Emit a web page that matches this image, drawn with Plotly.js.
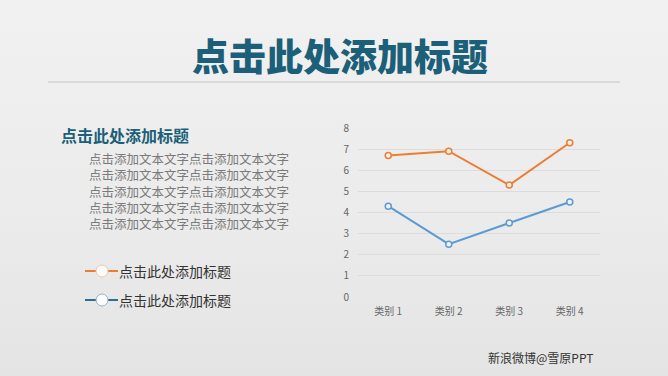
<!DOCTYPE html>
<html><head><meta charset="utf-8">
<script src="https://cdn.plot.ly/plotly-3.0.1.min.js"></script>
<style>
html,body{margin:0;padding:0;}
body{width:668px;height:376px;background:linear-gradient(180deg,#f1f1f1 0%,#ebebeb 60%,#e4e4e4 100%);overflow:hidden;}
#chart{width:668px;height:376px;}
</style></head>
<body><div id="chart"></div>
<script>
const categories = ['类别 1','类别 2','类别 3','类别 4'];
const seriesOrange = [6.7, 6.9, 5.3, 7.3];
const seriesBlue = [4.3, 2.5, 3.5, 4.5];
const yTicks = [0,1,2,3,4,5,6,7,8];
const mainTitle = '点击此处添加标题';
const subTitle = '点击此处添加标题';
const bodyLines = ['点击添加文本文字点击添加文本文字','点击添加文本文字点击添加文本文字','点击添加文本文字点击添加文本文字','点击添加文本文字点击添加文本文字','点击添加文本文字点击添加文本文字'];
const legendLabels = ['点击此处添加标题','点击此处添加标题'];
const footer = '新浪微博@雪原PPT';

const L=358, R=600, T=128, B=297, W=668, H=376;
const px = x => (x-L)/(R-L);
const py = y => (B-y)/(B-T);
const orange='#ED7D31', blue='#5B9BD5', teal='#1b5f78';

const traces = [
 {x:categories,y:seriesOrange,type:'scatter',mode:'lines+markers',line:{color:orange,width:2},
  marker:{symbol:'circle',size:6,color:'#f2f2f2',line:{color:orange,width:1.5}},hoverinfo:'none'},
 {x:categories,y:seriesBlue,type:'scatter',mode:'lines+markers',line:{color:blue,width:2},
  marker:{symbol:'circle',size:6,color:'#f2f2f2',line:{color:blue,width:1.5}},hoverinfo:'none'}
];

const ann = [];
ann.push({text:mainTitle,xref:'paper',yref:'paper',x:px(340),y:py(55),xanchor:'center',yanchor:'middle',showarrow:false,font:{size:37,color:teal,family:'Noto Sans CJK SC',weight:900}});
ann.push({text:'<b>'+subTitle+'</b>',xref:'paper',yref:'paper',x:px(59),y:py(135),xanchor:'left',yanchor:'middle',showarrow:false,font:{size:16,color:teal,family:'Noto Sans CJK SC'}});
ann.push({text:bodyLines.join('<br>'),xref:'paper',yref:'paper',x:px(87),y:py(191),xanchor:'left',yanchor:'middle',align:'left',showarrow:false,font:{size:12.5,color:'#7a7a7a',family:'Noto Sans CJK SC'}});
const legY=[271,300], legC=[orange,'#2e6e8e'];
legendLabels.forEach((t,i)=>{
  ann.push({text:t,xref:'paper',yref:'paper',x:px(117),y:py(legY[i]),xanchor:'left',yanchor:'middle',showarrow:false,font:{size:14,color:'#333',family:'Noto Sans CJK SC'}});
});
ann.push({text:footer,xref:'paper',yref:'paper',x:px(486),y:py(357),xanchor:'left',yanchor:'middle',showarrow:false,font:{size:12,color:'#333',family:'Noto Sans CJK SC'}});

const shapes = [
 {type:'line',xref:'paper',yref:'paper',x0:px(48),x1:px(620),y0:py(82),y1:py(82),line:{color:'#c4c4c4',width:1}}
];
legY.forEach((y,i)=>{
  shapes.push({type:'line',xref:'paper',yref:'paper',x0:px(85),x1:px(118),y0:py(y),y1:py(y),line:{color:legC[i],width:2}});
  shapes.push({type:'circle',xref:'paper',yref:'paper',xsizemode:'pixel',ysizemode:'pixel',xanchor:px(102),yanchor:py(y),x0:-6,x1:6,y0:-6,y1:6,fillcolor:'#fbfbfb',line:{color:i==0?'#f0c9a8':'#9ab4c4',width:1}});
});

const layout = {
  width:W,height:H,margin:{l:L,r:W-R,t:T,b:H-B},
  paper_bgcolor:'rgba(0,0,0,0)',plot_bgcolor:'rgba(0,0,0,0)',
  showlegend:false,
  font:{family:'Noto Sans CJK SC',color:'#666'},
  xaxis:{type:'category',range:[-0.5,3.5],showgrid:false,zeroline:false,showline:false,ticks:'',ticklabelstandoff:7,tickfont:{size:10,color:'#666'},fixedrange:true},
  yaxis:{range:[0,8],tickvals:yTicks,showgrid:true,gridcolor:'#dcdcdc',gridwidth:1,zeroline:false,showline:false,ticks:'',ticklen:0,ticklabelstandoff:8,tickfont:{size:10,color:'#666'},fixedrange:true,automargin:false},
  annotations:ann,shapes:shapes
};
Plotly.newPlot('chart',traces,layout,{staticPlot:true,displayModeBar:false});
</script></body></html>
